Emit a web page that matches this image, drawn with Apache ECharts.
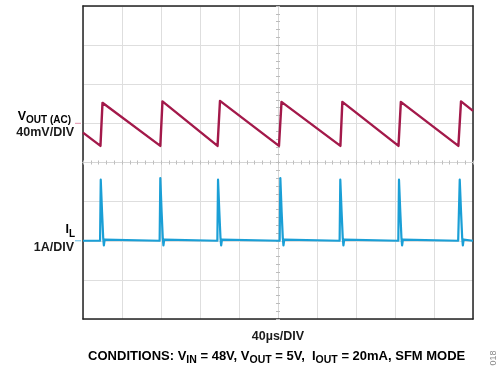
<!DOCTYPE html>
<html><head><meta charset="utf-8">
<script src="https://cdn.jsdelivr.net/npm/echarts@6/dist/echarts.min.js"></script>
<style>html,body{margin:0;padding:0;background:#fff}#c{width:500px;height:370px}</style>
</head><body><div id="c"></div>
<script>
// Time axis: 40 µs/div, 10 divisions
const timeTicksUs = [0, 40, 80, 120, 160, 200, 240, 280, 320, 360, 400];

// VOUT (AC), mV (40 mV/div)
const voutTimeUs = [0, 17.9, 20.0, 79.3, 81.5, 138.0, 140.5, 201.0, 203.6, 264.0, 266.0, 323.6, 326.0, 385.0, 387.7, 400];
const voutMv     = [-9.5, -23.0, 21.0, -23.0, 22.5, -23.0, 23.0, -23.0, 22.0, -23.0, 22.0, -23.0, 22.0, -23.0, 22.5, 12.8];

// IL, A (1 A/div)
const ilTimeUs = [0,
  17.5, 18.2, 19.5, 20.7, 21.4, 22.2,
  78.6, 79.3, 80.6, 81.8, 82.5, 83.3,
  137.8, 138.5, 139.8, 141.0, 141.7, 142.5,
  201.7, 202.4, 203.7, 204.9, 205.6, 206.4,
  263.2, 263.9, 265.2, 266.4, 267.1, 267.9,
  323.4, 324.1, 325.4, 326.6, 327.3, 328.1,
  384.8, 386.4, 387.7, 388.9, 389.6, 390.4,
  400];
const ilAmps = [0,
  0, 1.56, 0.75, 0.08, -0.12, 0.03,
  0, 1.60, 0.75, 0.08, -0.12, 0.03,
  0, 1.56, 0.75, 0.08, -0.12, 0.03,
  0, 1.60, 0.75, 0.08, -0.12, 0.03,
  0, 1.56, 0.75, 0.08, -0.12, 0.03,
  0, 1.56, 0.75, 0.08, -0.12, 0.03,
  0, 1.56, 0.75, 0.08, -0.12, 0.03,
  0];

const FONT = '"Liberation Sans", Arial, Helvetica, sans-serif';
const VOUT_COLOR = '#a3194a';
const IL_COLOR = '#1a9fd6';
const GRID_COLOR = '#dedede';
const FRAME = '#222';

const voutData = voutTimeUs.map((t, i) => [t, voutMv[i]]);
const ilData = ilTimeUs.map((t, i) => [t, ilAmps[i]]);

const G = {left: 83, top: 6, width: 390, height: 313};
const off = {show: false};
const frameLine = {show: true, onZero: false, lineStyle: {color: FRAME, width: 1.5}};

function centerX(gi, inside) {
  return {gridIndex: gi, type: 'value', min: -25, max: 25, interval: 1,
    axisLine: {show: true, onZero: true, lineStyle: {color: '#d6d6d6', width: 1}},
    axisTick: {show: true, inside: inside, length: 2, lineStyle: {color: '#bcbcbc', width: 1}},
    axisLabel: off, splitLine: off};
}
function centerY(gi, inside) {
  return {gridIndex: gi, type: 'value', min: -20, max: 20, interval: 1,
    axisLine: {show: true, onZero: true, lineStyle: {color: '#d6d6d6', width: 1}},
    axisTick: {show: true, inside: inside, length: 2, lineStyle: {color: '#bcbcbc', width: 1}},
    axisLabel: off, splitLine: off};
}

const m = (size, lh, extra) => Object.assign({fontSize: size, fontWeight: 'bold', fontFamily: FONT, color: '#1a1a1a', lineHeight: lh}, extra || {});

const option = {
  animation: false,
  backgroundColor: '#fff',
  grid: [Object.assign({}, G), Object.assign({}, G), Object.assign({}, G)],
  xAxis: [
    {gridIndex: 0, type: 'value', min: timeTicksUs[0], max: timeTicksUs[timeTicksUs.length - 1], interval: 40,
      axisLine: frameLine, axisTick: off, axisLabel: off,
      splitLine: {show: true, lineStyle: {color: GRID_COLOR, width: 1}}},
    {gridIndex: 0, type: 'value', position: 'top', min: 0, max: 400,
      axisLine: frameLine, axisTick: off, axisLabel: off, splitLine: off},
    centerX(1, false), centerX(2, true)
  ],
  yAxis: [
    {gridIndex: 0, type: 'value', min: -200, max: 120, interval: 40,
      axisLine: frameLine, axisTick: off, axisLabel: off,
      splitLine: {show: true, lineStyle: {color: GRID_COLOR, width: 1}}},
    {gridIndex: 0, type: 'value', position: 'right', min: -2, max: 6, interval: 1,
      axisLine: frameLine, axisTick: off, axisLabel: off, splitLine: off},
    centerY(1, false), centerY(2, true)
  ],
  series: [
    {type: 'line', xAxisIndex: 0, yAxisIndex: 0, data: voutData, showSymbol: false, symbol: 'none',
      lineStyle: {color: VOUT_COLOR, width: 2.4, join: 'round'}, z: 5, clip: false,
      markPoint: {silent: true, data: [{coord: [0, 0], symbol: 'rect', symbolSize: [6, 1.2], symbolOffset: [-5, 0],
        itemStyle: {color: '#e7a6bb'}, label: off}]}},
    {type: 'line', xAxisIndex: 0, yAxisIndex: 1, data: ilData, showSymbol: false, symbol: 'none',
      lineStyle: {color: IL_COLOR, width: 2.2, join: 'round'}, z: 4, clip: false,
      markPoint: {silent: true, data: [{coord: [0, 0], symbol: 'rect', symbolSize: [6, 1.2], symbolOffset: [-5, 0],
        itemStyle: {color: '#7fc8ea'}, label: off}]}}
  ],
  graphic: [
    {type: 'text', x: 71, y: 108, style: {text: '{m|V}{s|OUT (AC)}', align: 'right', verticalAlign: 'top',
      rich: {m: m(12.5, 17), s: m(10, 10, {padding: [7, 0, 0, 0]})}}},
    {type: 'text', x: 74, y: 133, style: {text: '40mV/DIV', align: 'right', verticalAlign: 'middle',
      font: 'bold 12.5px ' + FONT, fill: '#1a1a1a'}},
    {type: 'text', x: 75, y: 220.5, style: {text: '{m|I}{s|L}', align: 'right', verticalAlign: 'top',
      rich: {m: m(12.5, 19), s: m(10, 10, {padding: [9, 0, 0, 0]})}}},
    {type: 'text', x: 74, y: 247.4, style: {text: '1A/DIV', align: 'right', verticalAlign: 'middle',
      font: 'bold 12.5px ' + FONT, fill: '#1a1a1a'}},
    {type: 'text', x: 278, y: 336.7, style: {text: '40µs/DIV', align: 'center', verticalAlign: 'middle',
      font: 'bold 12.5px ' + FONT, fill: '#1a1a1a'}},
    {type: 'text', x: 276.7, y: 347.2, style: {
      text: '{m|CONDITIONS: V}{s|IN}{m| = 48V, V}{s|OUT}{m| = 5V,  I}{s|OUT}{m| = 20mA, SFM MODE}',
      align: 'center', verticalAlign: 'top',
      rich: {m: m(13, 18), s: m(10.5, 10, {padding: [8, 0, 0, 0]})}}},
    {type: 'text', x: 493.5, y: 358, rotation: Math.PI / 2, style: {text: '018', align: 'center', verticalAlign: 'middle',
      font: '9px ' + FONT, fill: '#8a8a8a'}}
  ]
};

const chart = echarts.init(document.getElementById('c'), null, {renderer: 'canvas'});
chart.setOption(option);
</script>
</body></html>
